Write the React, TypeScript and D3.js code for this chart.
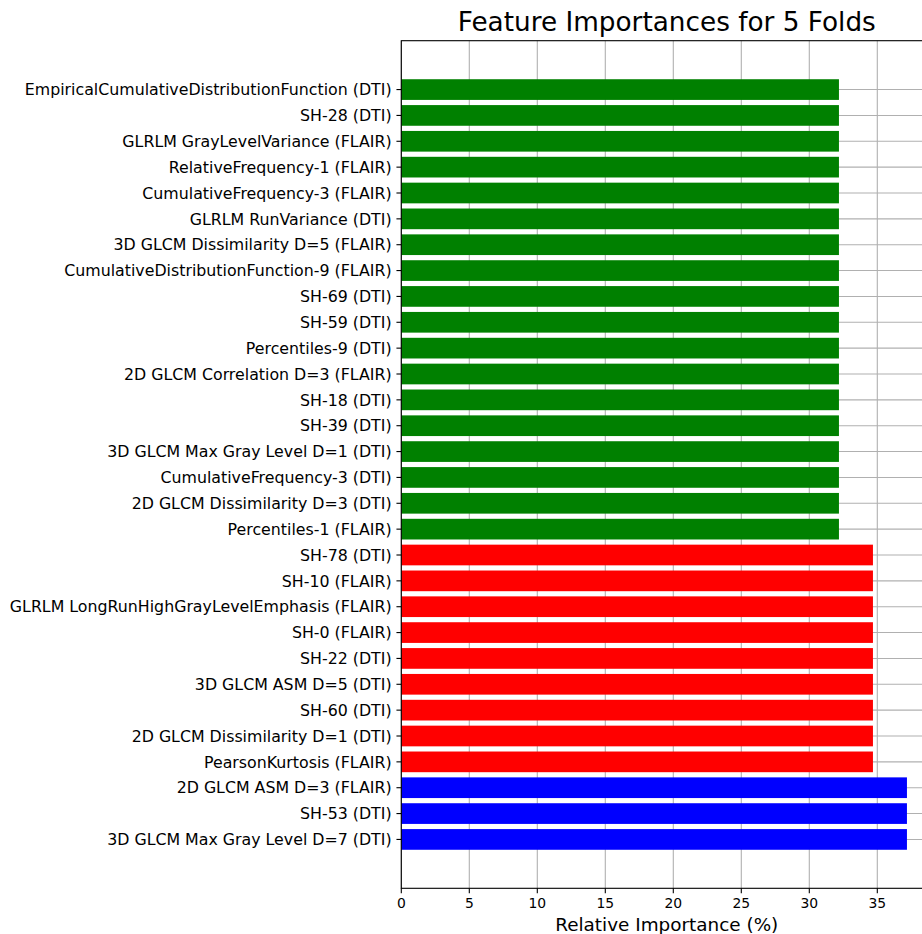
import React from "react";
import * as d3 from "d3";

// Feature names, listed top to bottom
const features: string[] = [
  "EmpiricalCumulativeDistributionFunction (DTI)",
  "SH-28 (DTI)",
  "GLRLM GrayLevelVariance (FLAIR)",
  "RelativeFrequency-1 (FLAIR)",
  "CumulativeFrequency-3 (FLAIR)",
  "GLRLM RunVariance (DTI)",
  "3D GLCM Dissimilarity D=5 (FLAIR)",
  "CumulativeDistributionFunction-9 (FLAIR)",
  "SH-69 (DTI)",
  "SH-59 (DTI)",
  "Percentiles-9 (DTI)",
  "2D GLCM Correlation D=3 (FLAIR)",
  "SH-18 (DTI)",
  "SH-39 (DTI)",
  "3D GLCM Max Gray Level D=1 (DTI)",
  "CumulativeFrequency-3 (DTI)",
  "2D GLCM Dissimilarity D=3 (DTI)",
  "Percentiles-1 (FLAIR)",
  "SH-78 (DTI)",
  "SH-10 (FLAIR)",
  "GLRLM LongRunHighGrayLevelEmphasis (FLAIR)",
  "SH-0 (FLAIR)",
  "SH-22 (DTI)",
  "3D GLCM ASM D=5 (DTI)",
  "SH-60 (DTI)",
  "2D GLCM Dissimilarity D=1 (DTI)",
  "PearsonKurtosis (FLAIR)",
  "2D GLCM ASM D=3 (FLAIR)",
  "SH-53 (DTI)",
  "3D GLCM Max Gray Level D=7 (DTI)",
];

// Relative importance (%) per feature
const importances: number[] = [
  32.18, 32.18, 32.18, 32.18, 32.18, 32.18, 32.18, 32.18, 32.18,
  32.18, 32.18, 32.18, 32.18, 32.18, 32.18, 32.18, 32.18, 32.18,
  34.68, 34.68, 34.68, 34.68, 34.68, 34.68, 34.68, 34.68, 34.68,
  37.18, 37.18, 37.18,
];

// Bar colour per feature (fold-count group)
const barColors: string[] = [
  ...Array(18).fill("#008000"),
  ...Array(9).fill("#ff0000"),
  ...Array(3).fill("#0000ff"),
];

const xTicks: number[] = [0, 5, 10, 15, 20, 25, 30, 35];

const W = 922;
const H = 934;
const left = 401.3;
const top = 40.7;
const bottom = 888.3;
const pxPerUnit = 13.6;
const font = "'DejaVu Sans', sans-serif";

export default function App() {
  const n = features.length;
  const xMax = d3.max(importances)! * 1.05;
  const x = d3.scaleLinear().domain([0, xMax]).range([left, left + xMax * pxPerUnit]);
  const pad = (n - 1 + 0.8) * 0.05;
  const y = d3
    .scaleLinear()
    .domain([-0.4 - pad, n - 1 + 0.4 + pad])
    .range([top, bottom]);
  const barH = y(0.8) - y(0);
  const right = x(xMax);
  const cx = (left + right) / 2;
  const tick = 4.86;

  return (
    <svg
      width={W}
      height={H}
      style={{ position: "absolute", left: 0, top: 0, background: "#fff" }}
      fontFamily={font}
    >
      <rect x={0} y={0} width={W} height={H} fill="#fff" />
      {/* grid */}
      <g stroke="#b0b0b0" strokeWidth={1.1}>
        {xTicks.map((t) => (
          <line key={"gx" + t} x1={x(t)} x2={x(t)} y1={top} y2={bottom} />
        ))}
        {features.map((f, i) => (
          <line key={"gy" + i} x1={left} x2={right} y1={y(i)} y2={y(i)} />
        ))}
      </g>
      {/* bars */}
      {features.map((f, i) => (
        <rect
          key={"b" + i}
          x={x(0)}
          y={y(i) - barH / 2}
          width={x(importances[i]) - x(0)}
          height={barH}
          fill={barColors[i]}
        />
      ))}
      {/* spines */}
      <g stroke="#000" strokeWidth={1.1} fill="none">
        <rect x={left} y={top} width={right - left} height={bottom - top} />
      </g>
      {/* y ticks */}
      {features.map((f, i) => (
        <g key={"yt" + i}>
          <line x1={left - tick} x2={left} y1={y(i)} y2={y(i)} stroke="#000" strokeWidth={1.1} />
          <text
            x={left - tick * 2}
            y={y(i)}
            dy="0.36em"
            textAnchor="end"
            fontSize={15.8}
            fill="#000"
          >
            {f}
          </text>
        </g>
      ))}
      {/* x ticks */}
      {xTicks.map((t) => (
        <g key={"xt" + t}>
          <line x1={x(t)} x2={x(t)} y1={bottom} y2={bottom + tick} stroke="#000" strokeWidth={1.1} />
          <text x={x(t)} y={908.3} textAnchor="middle" fontSize={13.9} fill="#000">
            {t}
          </text>
        </g>
      ))}
      <text x={cx} y={930.5} textAnchor="middle" fontSize={18.4} fill="#000">
        Relative Importance (%)
      </text>
      <text x={cx} y={31} textAnchor="middle" fontSize={26.3} fill="#000">
        Feature Importances for 5 Folds
      </text>
    </svg>
  );
}
